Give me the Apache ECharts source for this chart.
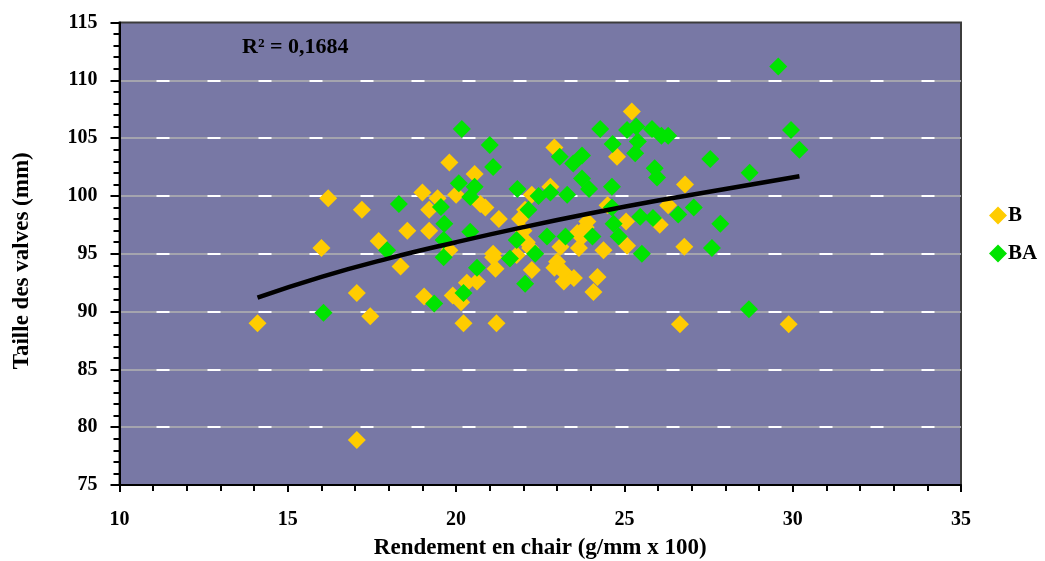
<!DOCTYPE html>
<html>
<head>
<meta charset="utf-8">
<script src="https://cdn.jsdelivr.net/npm/echarts@6/dist/echarts.min.js"></script>
<style>
  html, body { margin: 0; padding: 0; background: #ffffff; }
  #chart { width: 1045px; height: 561px; }
</style>
</head>
<body>
<div id="chart"></div>
<script>
// Série B : [rendement en chair, taille des valves]
const seriesB = [
  [14.1, 89.0], [16.2, 99.8], [16.0, 95.5], [17.05, 91.6], [17.45, 89.6],
  [17.05, 78.9], [18.35, 93.9], [17.7, 96.1], [17.2, 98.8], [18.55, 97.0],
  [19.0, 100.3], [19.45, 99.8], [19.2, 98.8], [19.2, 97.0], [19.8, 102.9],
  [20.55, 101.9], [20.0, 100.1], [20.72, 99.3], [20.87, 99.0], [21.27, 98.0],
  [19.8, 95.3], [19.05, 91.3], [19.9, 91.4], [20.15, 90.8], [20.22, 89.0],
  [21.2, 89.0], [20.32, 92.5], [20.62, 92.6], [21.1, 94.7], [21.17, 93.7],
  [21.1, 95.0], [21.8, 94.9], [21.9, 98.0], [22.05, 98.8], [22.25, 100.1],
  [22.8, 100.8], [22.92, 104.2], [22.1, 96.0], [22.25, 93.6], [22.92, 93.8],
  [23.2, 93.4], [23.2, 92.6], [23.1, 95.6], [23.65, 95.5], [23.75, 96.5],
  [23.85, 97.3], [24.38, 95.3], [24.2, 93.0], [24.08, 91.7], [24.5, 99.2],
  [24.78, 103.4], [25.22, 107.3], [25.05, 97.8], [25.08, 95.7], [26.05, 97.5],
  [26.8, 101.0], [26.78, 95.6], [26.65, 88.9], [29.88, 88.9], [22.0, 97.0],
  [22.2, 95.5], [23.0, 94.3], [23.5, 92.9], [23.9, 97.8], [23.6, 96.8],
  [26.3, 99.2]
];

// Série BA : [rendement en chair, taille des valves]
const seriesBA = [
  [16.06, 89.9], [17.95, 95.3], [18.3, 99.3], [19.35, 90.7], [19.55, 99.05],
  [19.65, 97.6], [19.63, 96.2], [19.63, 94.7], [20.17, 105.8], [21.0, 104.4],
  [21.1, 102.5], [20.08, 101.1], [20.55, 100.8], [20.42, 99.9], [20.42, 96.9],
  [20.62, 93.8], [20.22, 91.6], [21.82, 100.6], [22.15, 98.8], [22.45, 100.0],
  [21.8, 96.2], [21.6, 94.6], [22.35, 95.0], [22.05, 92.4], [22.7, 96.5],
  [22.8, 100.3], [23.3, 100.1], [23.08, 103.4], [23.48, 102.8], [23.74, 103.5],
  [23.74, 101.5], [23.95, 100.6], [24.63, 100.8], [24.28, 105.8], [24.65, 104.5],
  [25.08, 105.7], [25.35, 106.0], [25.4, 104.7], [25.32, 103.7], [25.82, 105.8],
  [26.1, 105.2], [26.3, 105.2], [25.9, 102.4], [25.97, 101.6], [24.63, 99.0],
  [25.47, 98.2], [25.85, 98.1], [26.6, 98.4], [27.06, 99.0], [24.68, 97.6],
  [23.25, 96.5], [24.05, 96.5], [24.83, 96.5], [25.52, 95.0], [27.6, 95.5],
  [27.85, 97.6], [27.55, 103.2], [28.72, 102.0], [28.7, 90.2], [29.57, 111.2],
  [29.95, 105.7], [30.2, 104.0]
];

// Courbe de tendance (logarithmique) relevée point par point
const trendLine = [
  [14.1, 91.2], [16, 93.0], [18, 94.6], [20, 96.0], [22, 97.3],
  [24, 98.5], [26, 99.6], [28, 100.6], [30.2, 101.7]
];

const r2Text = 'R² = 0,1684';
const xTitle = 'Rendement en chair (g/mm x 100)';
const yTitle = 'Taille des valves (mm)';

const FONT = "'Liberation Serif', 'Times New Roman', serif";
const chart = echarts.init(document.getElementById('chart'));

const commonAxisText = { fontFamily: FONT, fontWeight: 'bold', color: '#000', fontSize: 20 };

chart.setOption({
  animation: false,
  backgroundColor: '#ffffff',
  grid: {
    left: 119.5, right: 84, top: 22.5, bottom: 76,
    outerBoundsMode: 'none',
    containLabel: false,
    show: true,
    backgroundColor: '#7878A5',
    borderColor: '#3c3c3c',
    borderWidth: 2
  },
  legend: {
    data: ['B', 'BA'],
    orient: 'vertical',
    left: 984,
    top: 200,
    icon: 'diamond',
    itemWidth: 18,
    itemHeight: 18,
    itemGap: 17,
    textStyle: { fontFamily: FONT, fontWeight: 'bold', fontSize: 21, color: '#000', padding: [0, 0, 0, -4] }
  },
  xAxis: {
    type: 'value',
    min: 10, max: 35, interval: 5,
    name: xTitle,
    nameLocation: 'middle',
    nameGap: 52,
    nameTextStyle: Object.assign({}, commonAxisText, { fontSize: 23 }),
    axisLine: { show: true, lineStyle: { color: '#000', width: 2 } },
    axisTick: { show: true, length: 7, lineStyle: { color: '#000', width: 2 } },
    minorTick: { show: true, splitNumber: 5, length: 6, lineStyle: { color: '#000', width: 2 } },
    axisLabel: Object.assign({}, commonAxisText, { margin: 25 }),
    splitLine: { show: false }
  },
  yAxis: [
    {
      type: 'value',
      min: 75, max: 115, interval: 5,
      name: yTitle,
      nameLocation: 'middle',
      nameGap: 86,
      nameRotate: 90,
      nameTextStyle: Object.assign({}, commonAxisText, { fontSize: 23, padding: [0, 14, 0, 0] }),
      axisLine: { show: true, lineStyle: { color: '#000', width: 2 } },
      axisTick: { show: true, length: 9, lineStyle: { color: '#000', width: 2 } },
      minorTick: { show: true, splitNumber: 5, length: 6, lineStyle: { color: '#000', width: 2 } },
      axisLabel: Object.assign({}, commonAxisText, { margin: 22 }),
      splitLine: {
        show: true, showMinLine: false, showMaxLine: false,
        lineStyle: { color: '#a4a4ae', width: 2 }
      }
    },
    {
      // Tirets blancs superposés aux lignes de quadrillage
      type: 'value',
      min: 75, max: 115, interval: 5,
      position: 'left',
      axisLine: { show: false },
      axisTick: { show: false },
      axisLabel: { show: false },
      splitLine: {
        show: true, showMinLine: false, showMaxLine: false,
        lineStyle: { color: '#ffffff', width: 2, type: [13, 38], dashOffset: 14 }
      }
    }
  ],
  graphic: [
    {
      type: 'text',
      left: 242,
      top: 36,
      style: {
        text: r2Text,
        font: 'bold 22px ' + FONT,
        fill: '#000'
      },
      z: 100
    }
  ],
  series: [
    {
      name: 'B',
      type: 'scatter',
      symbol: 'diamond',
      symbolSize: 18,
      itemStyle: { color: '#FFCC00', opacity: 1 },
      data: seriesB,
      z: 3
    },
    {
      name: 'BA',
      type: 'scatter',
      symbol: 'diamond',
      symbolSize: 18,
      itemStyle: { color: '#00E400', opacity: 1 },
      data: seriesBA,
      z: 4
    },
    {
      name: 'Tendance',
      type: 'line',
      smooth: true,
      symbol: 'none',
      lineStyle: { color: '#000', width: 4.5 },
      data: trendLine,
      z: 5
    }
  ]
});
</script>
</body>
</html>
